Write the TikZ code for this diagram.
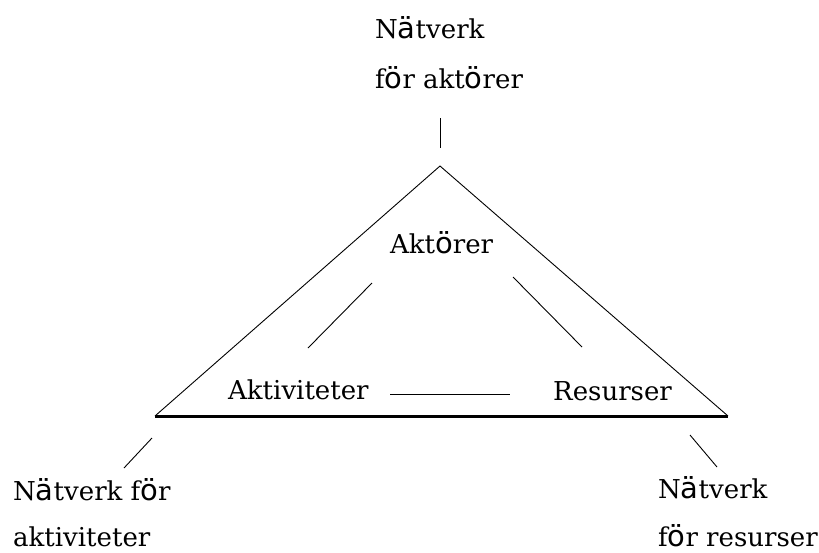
\documentclass[tikz,border=0pt]{standalone}
\usepackage{fontspec}
\setmainfont{DejaVu Serif}
\newfontfamily\sansx{DejaVu Sans}
\newcommand{\xa}{{\sansx\fontsize{29}{30}\selectfont ä}}
\newcommand{\xo}{{\sansx\fontsize{29}{30}\selectfont ö}}
\begin{document}
\begin{tikzpicture}[x=1pt,y=-1pt,
  lbl/.style={font=\fontsize{26}{30}\selectfont, inner sep=0pt, anchor=base west},
  thin line/.style={line width=0.9pt},
  base line/.style={line width=3pt}]
\useasboundingbox (0,0) rectangle (819,552);
% triangle
\coordinate (apex) at (440,166);
\coordinate (bl) at (155,416);
\coordinate (br) at (728,416);
\draw[thin line] (bl) -- (apex) -- (br);
\draw[base line] (bl) -- (br);
% labels
\node[lbl] (top1) at (375,38) {N\xa tverk};
\node[lbl] (top2) at (375,88) {f\xo r akt\xo rer};
\node[lbl] (akt) at (390,253) {Akt\xo rer};
\node[lbl] (aktiv) at (228,399) {Aktiviteter};
\node[lbl] (res) at (553,400) {Resurser};
\node[lbl] (bl1) at (13,500) {N\xa tverk f\xo r};
\node[lbl] (bl2) at (13,546) {aktiviteter};
\node[lbl] (br1) at (658,498) {N\xa tverk};
\node[lbl] (br2) at (658,546) {f\xo r resurser};
% connector segments
\coordinate (t1) at (440,118); \coordinate (t2) at (440,148);
\draw[thin line] (t1) -- (t2);
\coordinate (l1) at (372,283); \coordinate (l2) at (308,348);
\draw[thin line] (l1) -- (l2);
\coordinate (r1) at (513,277); \coordinate (r2) at (582,347);
\draw[thin line] (r1) -- (r2);
\coordinate (m1) at (390,394); \coordinate (m2) at (510,394);
\draw[thin line] (m1) -- (m2);
\coordinate (a1) at (152,438); \coordinate (a2) at (124,468);
\draw[thin line] (a1) -- (a2);
\coordinate (b1) at (690,435); \coordinate (b2) at (717,467);
\draw[thin line] (b1) -- (b2);
\end{tikzpicture}
\end{document}
